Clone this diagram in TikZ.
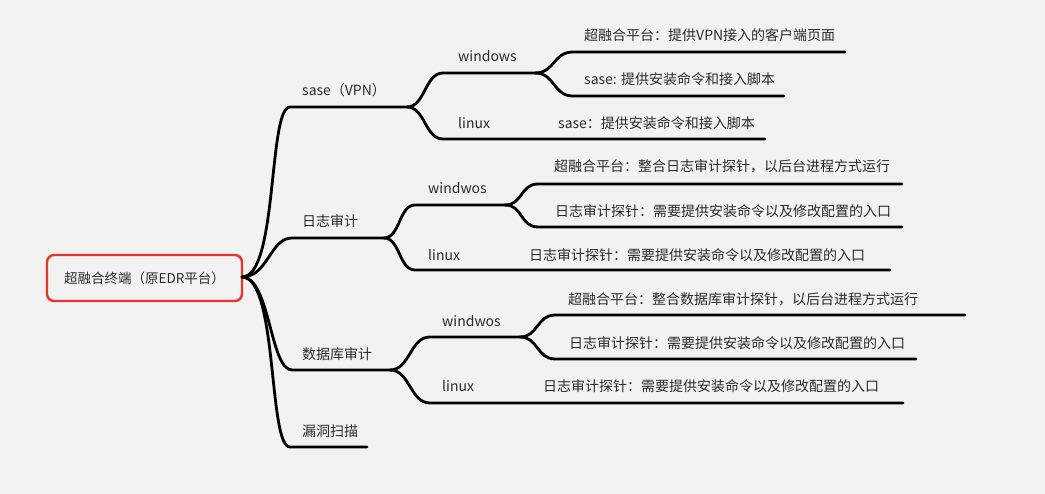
\documentclass[tikz,border=0pt]{standalone}
\usepackage{fontspec}
\setmainfont{Noto Sans CJK SC}
\definecolor{bgc}{HTML}{F2F2F2}
\definecolor{txt}{HTML}{2A2A2A}
\definecolor{rootred}{HTML}{E8352A}
\begin{document}
\begin{tikzpicture}[x=1pt,y=-1pt,
  lbl/.style={anchor=west,inner sep=0pt,text=txt,font=\fontsize{14}{16}\selectfont},
  branch/.style={line width=2.8pt,draw=black,line cap=round},
  rootbox/.style={draw=rootred,line width=2.4pt,rounded corners=7pt,minimum width=195pt,minimum height=46pt,inner sep=0pt,text=txt,font=\fontsize{13.5}{16}\selectfont}]
\fill[bgc] (0,0) rectangle (1045,494);
\useasboundingbox (0,0) rectangle (1045,494);

% central topic
\node[rootbox] (root) at (144.5,278) {超融合终端（原EDR平台）};
\coordinate (R) at (242,277);

% ---- first level: line start / split point ----
\coordinate (a0) at (290,107);  \coordinate (a1) at (407,107);
\coordinate (b0) at (292,238);  \coordinate (b1) at (384,238);
\coordinate (c0) at (292,370);  \coordinate (c1) at (390,370);
\coordinate (d0) at (290,447);  \coordinate (d1) at (367,447);

\node[lbl] (ta) at (302,90) {sase（VPN）};
\node[lbl] (tb) at (302,221) {日志审计};
\node[lbl] (tc) at (302,354) {数据库审计};
\node[lbl] (td) at (302,431) {漏洞扫描};

\draw[branch] (R) .. controls +(36,0) and +(-22,0) .. (a0) -- (a1);
\draw[branch] (R) .. controls +(26,0) and +(-22,0) .. (b0) -- (b1);
\draw[branch] (R) .. controls +(28,0) and +(-22,0) .. (c0) -- (c1);
\draw[branch] (R) .. controls +(36,0) and +(-22,0) .. (d0) -- (d1);

% ---- sase (VPN) ----
\coordinate (aw0) at (443,73);  \coordinate (aw1) at (535,73);
\coordinate (al0) at (443,139); \coordinate (al1) at (765,139);
\node[lbl] (taw) at (458,56) {windows};
\node[lbl] (tal) at (458,123) {linux};
\node[lbl] (tall) at (558,123) {sase：提供安装命令和接入脚本};
\draw[branch] (a1) .. controls +(18,0) and +(-18,0) .. (aw0) -- (aw1);
\draw[branch] (a1) .. controls +(18,0) and +(-18,0) .. (al0) -- (al1);

\coordinate (awt0) at (573,52); \coordinate (awt1) at (845,52);
\coordinate (awb0) at (573,96); \coordinate (awb1) at (784,96);
\node[lbl] (tawt) at (584,35) {超融合平台：提供VPN接入的客户端页面};
\node[lbl] (tawb) at (584,79) {sase: 提供安装命令和接入脚本};
\draw[branch] (aw1) .. controls +(20,0) and +(-20,0) .. (awt0) -- (awt1);
\draw[branch] (aw1) .. controls +(20,0) and +(-20,0) .. (awb0) -- (awb1);

% ---- log audit ----
\coordinate (bw0) at (415,205); \coordinate (bw1) at (505,205);
\coordinate (bl0) at (415,270); \coordinate (bl1) at (890,270);
\node[lbl] (tbw) at (428,188) {windwos};
\node[lbl] (tbl) at (428,255) {linux};
\node[lbl] (tbll) at (529,255) {日志审计探针：需要提供安装命令以及修改配置的入口};
\draw[branch] (b1) .. controls +(16,0) and +(-16,0) .. (bw0) -- (bw1);
\draw[branch] (b1) .. controls +(16,0) and +(-16,0) .. (bl0) -- (bl1);

\coordinate (bwt0) at (538,184); \coordinate (bwt1) at (902,184);
\coordinate (bwb0) at (538,227); \coordinate (bwb1) at (902,227);
\node[lbl] (tbwt) at (554,166) {超融合平台：整合日志审计探针，以后台进程方式运行};
\node[lbl] (tbwb) at (555,211) {日志审计探针：需要提供安装命令以及修改配置的入口};
\draw[branch] (bw1) .. controls +(18,0) and +(-18,0) .. (bwt0) -- (bwt1);
\draw[branch] (bw1) .. controls +(18,0) and +(-18,0) .. (bwb0) -- (bwb1);

% ---- database audit ----
\coordinate (cw0) at (430,337); \coordinate (cw1) at (520,337);
\coordinate (cl0) at (430,403); \coordinate (cl1) at (903,403);
\node[lbl] (tcw) at (442,321) {windwos};
\node[lbl] (tcl) at (442,386) {linux};
\node[lbl] (tcll) at (543,386) {日志审计探针：需要提供安装命令以及修改配置的入口};
\draw[branch] (c1) .. controls +(20,0) and +(-20,0) .. (cw0) -- (cw1);
\draw[branch] (c1) .. controls +(20,0) and +(-20,0) .. (cl0) -- (cl1);

\coordinate (cwt0) at (555,315); \coordinate (cwt1) at (965,315);
\coordinate (cwb0) at (555,359); \coordinate (cwb1) at (916,359);
\node[lbl] (tcwt) at (568,299) {超融合平台：整合数据库审计探针，以后台进程方式运行};
\node[lbl] (tcwb) at (569,343) {日志审计探针：需要提供安装命令以及修改配置的入口};
\draw[branch] (cw1) .. controls +(18,0) and +(-18,0) .. (cwt0) -- (cwt1);
\draw[branch] (cw1) .. controls +(18,0) and +(-18,0) .. (cwb0) -- (cwb1);
\end{tikzpicture}
\end{document}
